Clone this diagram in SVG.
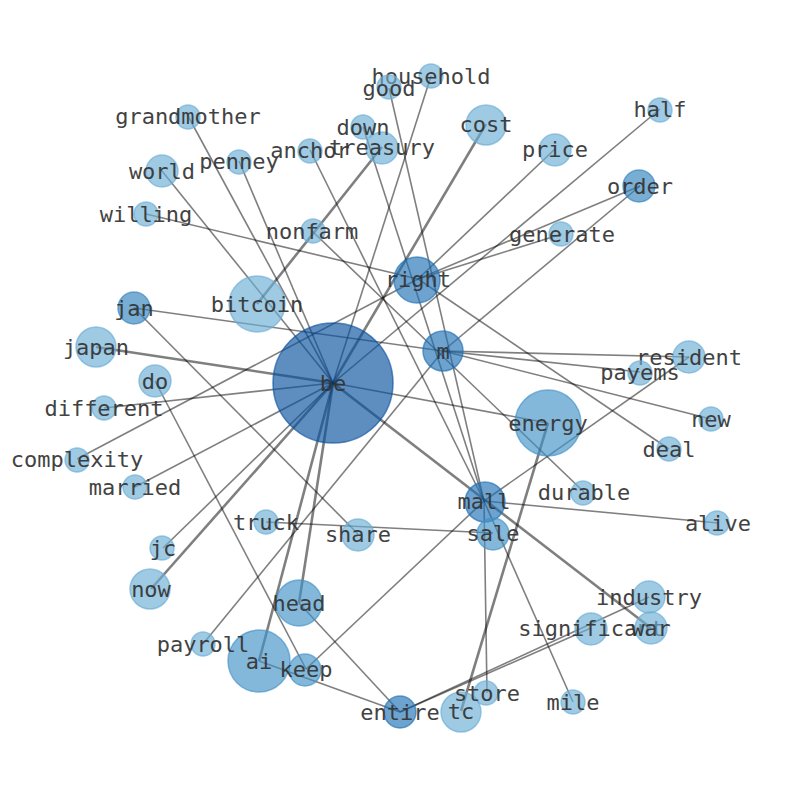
<svg xmlns="http://www.w3.org/2000/svg" width="794" height="790" viewBox="0 0 794 790">
<style>
.e{stroke:#000;stroke-opacity:.5;stroke-width:1.6;fill:none}
.t{stroke-width:2.6}
circle{fill-opacity:.65;stroke-opacity:.65;stroke-width:1.5}
.l{fill:#6baed6;stroke:#6baed6}
.m2{fill:#4292c6;stroke:#4292c6}
.m3{fill:#3182bd;stroke:#3182bd}
.d{fill:#2171b5;stroke:#2171b5}
.dd{fill:#08519c;stroke:#08519c}
text{font-family:"DejaVu Sans Mono","Liberation Mono",monospace;font-size:22px;fill:#333;text-anchor:middle;dominant-baseline:central;opacity:.92}
</style>
<rect width="794" height="790" fill="#fff"/>
<g id="edges">
<line class="e t" x1="333" y1="383" x2="96" y2="347"/>
<line class="e" x1="333" y1="383" x2="104" y2="408"/>
<line class="e" x1="333" y1="383" x2="135" y2="487"/>
<line class="e" x1="333" y1="383" x2="163" y2="548"/>
<line class="e t" x1="333" y1="383" x2="151" y2="589"/>
<line class="e t" x1="333" y1="383" x2="299" y2="603"/>
<line class="e t" x1="333" y1="383" x2="259" y2="661"/>
<line class="e" x1="333" y1="383" x2="162" y2="171"/>
<line class="e" x1="333" y1="383" x2="188" y2="116"/>
<line class="e" x1="333" y1="383" x2="239" y2="161"/>
<line class="e t" x1="333" y1="383" x2="486" y2="124"/>
<line class="e" x1="333" y1="383" x2="431" y2="76"/>
<line class="e" x1="333" y1="383" x2="660" y2="109"/>
<line class="e" x1="333" y1="383" x2="548" y2="423"/>
<line class="e t" x1="333" y1="383" x2="651" y2="628"/>
<line class="e t" x1="382" y1="147" x2="257" y2="304"/>
<line class="e" x1="418" y1="279" x2="77" y2="459"/>
<line class="e" x1="418" y1="279" x2="146" y2="214"/>
<line class="e" x1="418" y1="279" x2="555" y2="149"/>
<line class="e" x1="418" y1="279" x2="640" y2="186"/>
<line class="e" x1="418" y1="279" x2="562" y2="234"/>
<line class="e" x1="418" y1="279" x2="669" y2="449"/>
<line class="e" x1="134" y1="308" x2="443" y2="351"/>
<line class="e" x1="134" y1="308" x2="358" y2="534"/>
<line class="e" x1="443" y1="351" x2="640" y2="372"/>
<line class="e" x1="443" y1="351" x2="689" y2="357"/>
<line class="e" x1="443" y1="351" x2="711" y2="419"/>
<line class="e" x1="443" y1="351" x2="640" y2="186"/>
<line class="e" x1="443" y1="351" x2="203" y2="644"/>
<line class="e" x1="312" y1="231" x2="584" y2="492"/>
<line class="e" x1="155" y1="381" x2="306" y2="669"/>
<line class="e" x1="310" y1="150" x2="484" y2="501"/>
<line class="e" x1="363" y1="127" x2="484" y2="501"/>
<line class="e" x1="389" y1="88" x2="484" y2="501"/>
<line class="e" x1="484" y1="501" x2="689" y2="357"/>
<line class="e" x1="484" y1="501" x2="718" y2="523"/>
<line class="e" x1="484" y1="501" x2="487" y2="693"/>
<line class="e" x1="484" y1="501" x2="573" y2="702"/>
<line class="e" x1="484" y1="501" x2="306" y2="669"/>
<line class="e" x1="266" y1="522" x2="493" y2="533"/>
<line class="e t" x1="548" y1="423" x2="461" y2="711"/>
<line class="e" x1="299" y1="603" x2="400" y2="712"/>
<line class="e" x1="259" y1="661" x2="400" y2="712"/>
<line class="e" x1="400" y1="712" x2="591" y2="628"/>
<line class="e" x1="400" y1="712" x2="649" y2="597"/>
</g>
<g id="n-be"><circle class="dd" cx="333" cy="383" r="60"/><text x="333" y="383">be</text></g>
<g id="n-energy"><circle class="m2" cx="548" cy="423" r="33"/><text x="548" y="423">energy</text></g>
<g id="n-ai"><circle class="m2" cx="259" cy="661" r="31"/><text x="259" y="661">ai</text></g>
<g id="n-bitcoin"><circle class="l" cx="257" cy="304" r="28"/><text x="257" y="304">bitcoin</text></g>
<g id="n-right"><circle class="d" cx="417" cy="280" r="23"/><text x="418" y="279">right</text></g>
<g id="n-head"><circle class="m2" cx="299" cy="603" r="23"/><text x="299" y="603">head</text></g>
<g id="n-cost"><circle class="l" cx="486" cy="125" r="20"/><text x="486" y="124">cost</text></g>
<g id="n-m"><circle class="d" cx="443" cy="351" r="20"/><text x="443" y="351">m</text></g>
<g id="n-mall"><circle class="d" cx="485" cy="502" r="20"/><text x="484" y="501">mall</text></g>
<g id="n-now"><circle class="l" cx="150" cy="589" r="20"/><text x="151" y="589">now</text></g>
<g id="n-japan"><circle class="l" cx="96" cy="347" r="20"/><text x="96" y="347">japan</text></g>
<g id="n-tc"><circle class="l" cx="461" cy="712" r="20"/><text x="461" y="711">tc</text></g>
<g id="n-order"><circle class="m3" cx="639" cy="186" r="16"/><text x="640" y="186">order</text></g>
<g id="n-world"><circle class="l" cx="162" cy="171" r="16"/><text x="162" y="171">world</text></g>
<g id="n-price"><circle class="l" cx="555" cy="150" r="16"/><text x="555" y="149">price</text></g>
<g id="n-jan"><circle class="m3" cx="134" cy="308" r="16"/><text x="134" y="308">jan</text></g>
<g id="n-do"><circle class="l" cx="155" cy="381" r="16"/><text x="155" y="381">do</text></g>
<g id="n-share"><circle class="l" cx="358" cy="535" r="16"/><text x="358" y="534">share</text></g>
<g id="n-sale"><circle class="m2" cx="493" cy="534" r="16"/><text x="493" y="533">sale</text></g>
<g id="n-keep"><circle class="m2" cx="305" cy="670" r="16"/><text x="306" y="669">keep</text></g>
<g id="n-entire"><circle class="d" cx="400" cy="712" r="16"/><text x="400" y="712">entire</text></g>
<g id="n-significant"><circle class="l" cx="591" cy="629" r="16"/><text x="591" y="628">significant</text></g>
<g id="n-war"><circle class="l" cx="651" cy="628" r="16"/><text x="651" y="628">war</text></g>
<g id="n-industry"><circle class="l" cx="649" cy="597" r="16"/><text x="649" y="597">industry</text></g>
<g id="n-resident"><circle class="l" cx="689" cy="357" r="16"/><text x="689" y="357">resident</text></g>
<g id="n-treasury"><circle class="l" cx="382" cy="148" r="16"/><text x="382" y="147">treasury</text></g>
<g id="n-household"><circle class="l" cx="431" cy="76" r="12"/><text x="431" y="76">household</text></g>
<g id="n-good"><circle class="l" cx="389" cy="87" r="12"/><text x="389" y="88">good</text></g>
<g id="n-down"><circle class="l" cx="363" cy="127" r="12"/><text x="363" y="127">down</text></g>
<g id="n-anchor"><circle class="l" cx="310" cy="151" r="12"/><text x="310" y="150">anchor</text></g>
<g id="n-penney"><circle class="l" cx="239" cy="162" r="12"/><text x="239" y="161">penney</text></g>
<g id="n-grandmother"><circle class="l" cx="188" cy="117" r="12"/><text x="188" y="116">grandmother</text></g>
<g id="n-willing"><circle class="l" cx="146" cy="214" r="12"/><text x="146" y="214">willing</text></g>
<g id="n-nonfarm"><circle class="l" cx="313" cy="231" r="12"/><text x="312" y="231">nonfarm</text></g>
<g id="n-half"><circle class="l" cx="660" cy="110" r="12"/><text x="660" y="109">half</text></g>
<g id="n-generate"><circle class="l" cx="561" cy="234" r="12"/><text x="562" y="234">generate</text></g>
<g id="n-different"><circle class="l" cx="104" cy="408" r="12"/><text x="104" y="408">different</text></g>
<g id="n-complexity"><circle class="l" cx="77" cy="460" r="12"/><text x="77" y="459">complexity</text></g>
<g id="n-married"><circle class="l" cx="135" cy="487" r="12"/><text x="135" y="487">married</text></g>
<g id="n-payems"><circle class="l" cx="640" cy="373" r="12"/><text x="640" y="372">payems</text></g>
<g id="n-new"><circle class="l" cx="711" cy="419" r="12"/><text x="711" y="419">new</text></g>
<g id="n-deal"><circle class="l" cx="669" cy="449" r="12"/><text x="669" y="449">deal</text></g>
<g id="n-durable"><circle class="l" cx="583" cy="493" r="12"/><text x="584" y="492">durable</text></g>
<g id="n-alive"><circle class="l" cx="717" cy="523" r="12"/><text x="718" y="523">alive</text></g>
<g id="n-truck"><circle class="l" cx="266" cy="522" r="12"/><text x="266" y="522">truck</text></g>
<g id="n-jc"><circle class="l" cx="162" cy="548" r="12"/><text x="163" y="548">jc</text></g>
<g id="n-payroll"><circle class="l" cx="203" cy="644" r="12"/><text x="203" y="644">payroll</text></g>
<g id="n-store"><circle class="l" cx="486" cy="693" r="12"/><text x="487" y="693">store</text></g>
<g id="n-mile"><circle class="l" cx="573" cy="702" r="12"/><text x="573" y="702">mile</text></g>
</svg>
